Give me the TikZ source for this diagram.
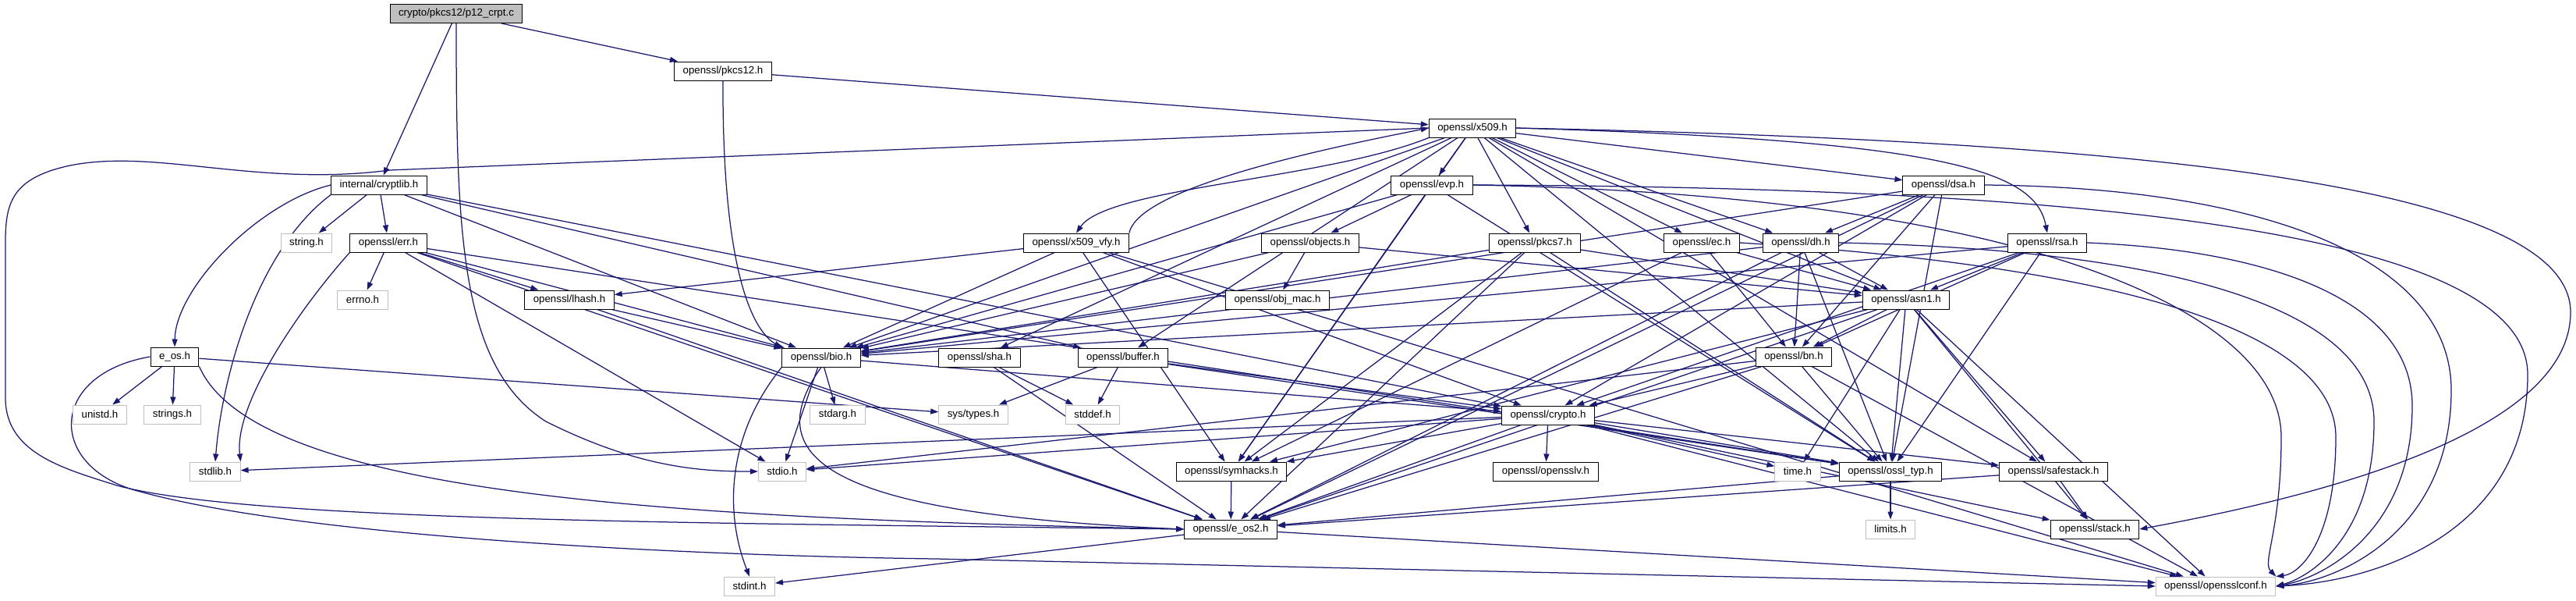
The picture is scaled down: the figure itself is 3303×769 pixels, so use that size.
\documentclass[tikz,border=0pt]{standalone}
\usepackage{fontspec}
\setmainfont{Liberation Sans}
\usetikzlibrary{arrows.meta,positioning}
\definecolor{edgeblue}{RGB}{25,25,112}
\definecolor{sysgray}{RGB}{191,191,191}
\pgfdeclarelayer{edges}
\pgfsetlayers{edges,main}
\tikzset{
  hdr/.style={draw=black,line width=1pt,fill=white,inner xsep=11pt,inner ysep=0pt,
    minimum height=24pt,font=\fontsize{13.3}{15}\selectfont},
  syshdr/.style={hdr,draw=sysgray},
  srcfile/.style={hdr,fill=sysgray},
  incl/.style={-{Triangle[length=10pt,width=7pt]},draw=edgeblue,line width=1.25pt}
}

\begin{document}
\begin{tikzpicture}[x=1pt,y=-1pt]
  \useasboundingbox (0,0) rectangle (3303,769);
  % rows of the include graph
  \node[srcfile] (p12) at (585,17.5) {crypto/pkcs12/p12\_crpt.c};
  \node[hdr] (pkcs12) at (927,91) {openssl/pkcs12.h};
  \node[hdr] (x509) at (1888,164) {openssl/x509.h};
  \node[hdr] (cryptlib) at (486,237) {internal/cryptlib.h};
  \node[hdr] (evp) at (1836,237) {openssl/evp.h};
  \node[hdr] (dsa) at (2492,237) {openssl/dsa.h};
  \node[syshdr] (stringh) at (393,311) {string.h};
  \node[hdr] (err) at (498,311) {openssl/err.h};
  \node[hdr] (vfy) at (1380,311) {openssl/x509\_vfy.h};
  \node[hdr] (objects) at (1680,311) {openssl/objects.h};
  \node[hdr] (pkcs7) at (1968,311) {openssl/pkcs7.h};
  \node[hdr] (ec) at (2182,311) {openssl/ec.h};
  \node[hdr] (dh) at (2309,311) {openssl/dh.h};
  \node[hdr] (rsa) at (2625,311) {openssl/rsa.h};
  \node[syshdr] (errno) at (465,384) {errno.h};
  \node[hdr] (lhash) at (730,384) {openssl/lhash.h};
  \node[hdr] (objmac) at (1638,384) {openssl/obj\_mac.h};
  \node[hdr] (asn1) at (2444,384) {openssl/asn1.h};
  \node[hdr] (eos) at (224,457) {e\_os.h};
  \node[hdr] (bio) at (1053,458) {openssl/bio.h};
  \node[hdr] (sha) at (1256,458) {openssl/sha.h};
  \node[hdr] (buffer) at (1440,458) {openssl/buffer.h};
  \node[hdr] (bn) at (2300,457) {openssl/bn.h};
  \node[syshdr] (unistd) at (128,531) {unistd.h};
  \node[syshdr] (strings) at (221,531) {strings.h};
  \node[syshdr] (stdarg) at (1074,531) {stdarg.h};
  \node[syshdr] (systypes) at (1248,531) {sys/types.h};
  \node[syshdr] (stddef) at (1401,531) {stddef.h};
  \node[hdr] (crypto) at (1985,532) {openssl/crypto.h};
  \node[syshdr] (stdlib) at (276,604) {stdlib.h};
  \node[syshdr] (stdio) at (1003,604) {stdio.h};
  \node[hdr] (symhacks) at (1579,604) {openssl/symhacks.h};
  \node[hdr] (opensslv) at (1982,604) {openssl/opensslv.h};
  \node[syshdr] (timeh) at (2305,604) {time.h};
  \node[hdr] (ossltyp) at (2424,604) {openssl/ossl\_typ.h};
  \node[hdr] (safestack) at (2633,604) {openssl/safestack.h};
  \node[hdr] (eostwo) at (1578,678) {openssl/e\_os2.h};
  \node[syshdr] (limits) at (2424,678) {limits.h};
  \node[hdr] (stack) at (2686,678) {openssl/stack.h};
  \node[syshdr] (stdint) at (961,751) {stdint.h};
  \node[syshdr] (conf) at (2841,751) {openssl/opensslconf.h};

  \begin{pgfonlayer}{edges}
  \foreach \s/\t in {p12/pkcs12, p12/cryptlib, pkcs12/x509, cryptlib/stringh, cryptlib/err,
      cryptlib/bio, cryptlib/buffer, cryptlib/crypto, err/errno, err/lhash, err/bio, err/stdio,
      err/eostwo, err/ossltyp, lhash/bio, lhash/eostwo, eos/unistd, eos/strings, eos/systypes,
      x509/evp, x509/pkcs7, x509/ec, x509/dh, x509/dsa, x509/asn1, x509/bio, x509/sha,
      x509/buffer, x509/symhacks, x509/ossltyp, x509/safestack, vfy/lhash, vfy/bio, vfy/crypto,
      vfy/symhacks, vfy/conf, evp/objects, evp/bio, evp/symhacks, evp/ossltyp, objects/objmac,
      objects/bio, objects/asn1, pkcs7/asn1, pkcs7/bio, pkcs7/eostwo, pkcs7/symhacks,
      pkcs7/ossltyp, ec/asn1, ec/bn, ec/symhacks, dh/asn1, dh/bn, dh/bio, dh/eostwo,
      dh/ossltyp, dsa/dh, dsa/bn, dsa/bio, dsa/crypto, dsa/eostwo, dsa/ossltyp, rsa/asn1,
      rsa/bn, rsa/bio, rsa/crypto, rsa/ossltyp, asn1/bio, asn1/bn, asn1/timeh, asn1/eostwo,
      asn1/symhacks, asn1/ossltyp, asn1/safestack, asn1/stack, asn1/conf, bn/crypto,
      bn/stdio, bn/ossltyp, bn/eostwo, bn/conf, bio/stdio, bio/stdarg, bio/crypto,
      sha/stddef, sha/eostwo, buffer/systypes, buffer/stddef, buffer/crypto, buffer/ossltyp,
      crypto/stdlib, crypto/stdio, crypto/timeh, crypto/eostwo, crypto/symhacks,
      crypto/opensslv, crypto/ossltyp, crypto/safestack, crypto/stack, crypto/conf,
      safestack/stack, safestack/eostwo, ossltyp/limits, ossltyp/eostwo, symhacks/eostwo,
      eostwo/conf, eostwo/stdint}
    \draw[incl] (\s) -- (\t);

  % routed edges
  \draw[incl] (p12.south) .. controls (585,300) and (590,470) .. (700,540)
    .. controls (820,600) and (900,604) .. (stdio.west);
  \draw[incl] (pkcs12.south) .. controls (926,330) and (960,420) .. (bio.north west);
  \draw[incl] (cryptlib.west) .. controls (330,260) and (225,370) .. (eos.north);
  \draw[incl] (cryptlib.south west) .. controls (330,320) and (285,480) .. (stdlib.north);
  \draw[incl] (err.south west) .. controls (380,400) and (300,520) .. (stdlib.north east);
  \draw[incl] (x509.south west) .. controls (1700,230) and (1420,240) .. (vfy.north);
  \draw[incl] (vfy.north east) .. controls (1460,240) and (1700,190) .. (x509.west);
  \draw[incl] (x509.west) -- (500,218) .. controls (330,240) and (200,190) .. (90,212)
    .. controls (15,228) and (7,260) .. (7,310) -- (7,510)
    .. controls (7,580) and (80,600) .. (150,622)
    .. controls (320,668) and (900,670) .. (eostwo.west);
  \draw[incl] (x509.east) .. controls (2700,180) and (3296,230) .. (3296,400)
    .. controls (3296,560) and (2950,640) .. (stack.east);
  \draw[incl] (x509.east) .. controls (2500,180) and (2610,220) .. (rsa.north);
  \draw[incl] (eos.south east) .. controls (330,640) and (900,664) .. (eostwo.west);
  \draw[incl] (eos.west) .. controls (60,480) and (60,600) .. (180,630)
    .. controls (400,690) and (900,712) .. (1200,716) -- (conf.west);
  \draw[incl] (bio.south west) .. controls (930,560) and (930,660) .. (stdint.north);
  \draw[incl] (bio.south) .. controls (960,600) and (1100,660) .. (eostwo.west);
  % long arcs on the right into opensslconf.h
  \draw[incl] (evp.east) .. controls (2700,240) and (3241,300) .. (3241,480)
    .. controls (3241,680) and (3050,745) .. (conf.east);
  \draw[incl] (dsa.east) .. controls (2900,240) and (3143,330) .. (3143,500)
    .. controls (3143,680) and (3000,745) .. (conf.east);
  \draw[incl] (rsa.east) .. controls (2900,320) and (3093,380) .. (3093,520)
    .. controls (3093,680) and (2980,740) .. (conf.east);
  \draw[incl] (dh.east) .. controls (2800,320) and (3044,400) .. (3044,540)
    .. controls (3044,690) and (2960,740) .. (conf.east);
  \draw[incl] (ec.east) .. controls (2700,340) and (2995,420) .. (2995,560)
    .. controls (2995,690) and (2950,735) .. (conf.north east);
  \draw[incl] (evp.east) .. controls (2600,250) and (2925,400) .. (2925,560)
    .. controls (2925,680) and (2900,720) .. (conf.north east);
  \end{pgfonlayer}
\end{tikzpicture}
\end{document}
